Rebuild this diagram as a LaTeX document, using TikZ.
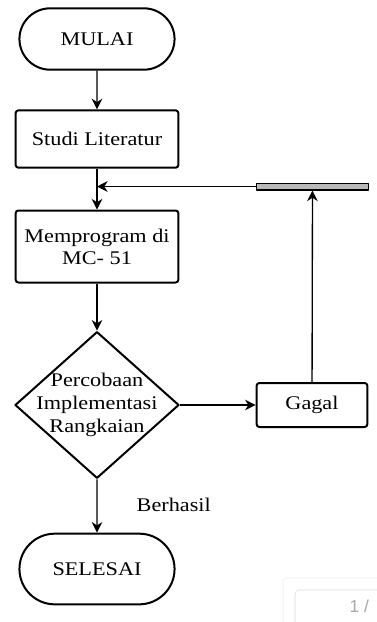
\documentclass[tikz,border=0pt]{standalone}
\usepackage{fontspec}
\setmainfont{Liberation Serif}[FakeStretch=1.15]
\setsansfont{Liberation Sans}
\usetikzlibrary{shapes.misc,shapes.geometric,arrows.meta}
\tikzset{
  terminal/.style={rounded rectangle, draw, line width=1.5pt, minimum width=123pt, minimum height=46pt},
  process/.style={rectangle, draw, line width=1.5pt, rounded corners=2pt, minimum width=122pt, align=center},
  decision/.style={diamond, draw, line width=1.5pt, minimum width=123pt, minimum height=110pt, inner sep=0pt},
  bar/.style={rectangle, draw, fill=gray!55, line width=1pt, minimum width=84pt, minimum height=5pt, inner sep=0pt},
  flow/.style={line width=1pt, -{Stealth[length=8pt,width=8pt]}}
}
\begin{document}
\begin{tikzpicture}[x=0.75pt, y=-0.75pt, font=\fontsize{14.5}{16.5}\selectfont, line join=round]
\useasboundingbox (0,0) rectangle (377,622);
\node[terminal] (mulai) at (97,39) {MULAI};
\node[process, minimum height=43pt] (studi) at (97,139) {Studi Literatur};
\node[process, minimum height=54pt] (prog) at (97,246.5) {Memprogram di\\MC- 51};
\node[decision, label={[align=center, font=\fontsize{14.5}{17}\selectfont]center:Percobaan\\Implementasi\\Rangkaian}] (coba) at (97,405) {};
\node[process, minimum width=83pt, minimum height=33pt] (gagal) at (312,405) {Gagal};
\node[bar] (bar) at (312.5,186.5) {};
\node[terminal, minimum height=53pt] (selesai) at (97,569) {SELESAI};
\node[anchor=west] (hasil) at (132,505) {Berhasil};
\coordinate (temu) at (studi.south |- bar.west);
\draw[flow] (mulai) -- (studi);
\draw[flow] (studi) -- (prog);
\draw[flow] (bar.west) -- (temu);
\draw[flow] (prog) -- (coba);
\draw[flow] (coba) -- (gagal);
\draw[flow] (gagal) -- (bar);
\draw[flow] (coba) -- (selesai);
% penanda halaman
\draw[gray!15, rounded corners=3pt] (283,578) rectangle (385,630);
\draw[gray!30, fill=white, rounded corners=3pt] (295,590) rectangle (385,630);
\node[text=gray!70, font=\sffamily\fontsize{13}{15}\selectfont, anchor=west] (hal) at (345,606) {1 /};
\end{tikzpicture}
\end{document}
